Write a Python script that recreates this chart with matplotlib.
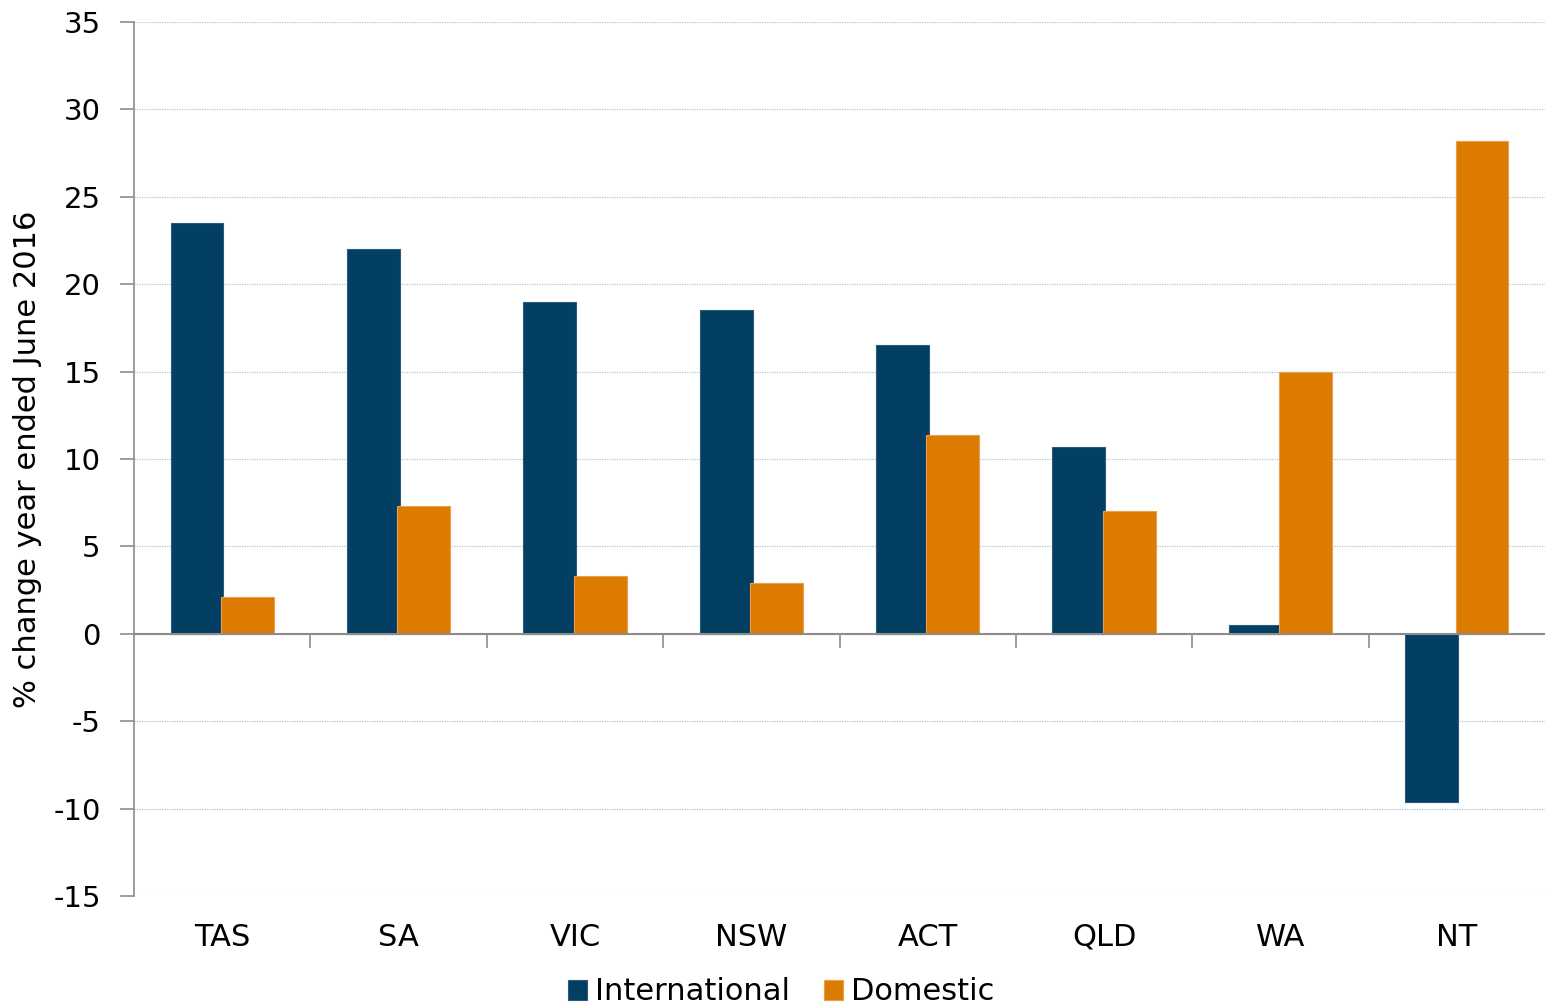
import matplotlib.pyplot as plt
import numpy as np

states = ['TAS', 'SA', 'VIC', 'NSW', 'ACT', 'QLD', 'WA', 'NT']
international = [23.5, 22.0, 19.0, 18.5, 16.5, 10.7, 0.5, -9.6]
domestic = [2.1, 7.3, 3.3, 2.9, 11.4, 7.0, 15.0, 28.2]
yticks = list(range(-15, 36, 5))

NAVY = '#023F62'
ORANGE = '#DD7A00'
GREY = '#8C8C8C'

plt.rcParams['font.family'] = ['DejaVu Sans']
plt.rcParams['axes.unicode_minus'] = False

fig = plt.figure(figsize=(15.45, 10.07), dpi=100)
ax = fig.add_axes([134 / 1545, 1 - 896 / 1007, 1 - 134 / 1545, (896 - 22) / 1007])

x = np.arange(len(states))
w = 0.3
off = 0.143
ax.bar(x - off, international, w, color=NAVY, edgecolor='#2b5a7a', linewidth=0.8,
       label='International', zorder=2)
ax.bar(x + off, domestic, w, color=ORANGE, edgecolor='#e8a050', linewidth=0.8,
       label='Domestic', zorder=2)

ax.set_xlim(-0.5, len(states) - 0.5)
ax.set_ylim(-15, 35)
ax.set_yticks(yticks)
ax.tick_params(axis='y', labelsize=21, length=10, width=1.2, color=GREY, pad=14)
ax.yaxis.grid(True, linestyle=(0, (1, 1)), color='#b4c4d2', linewidth=0.9, zorder=0)
ax.set_axisbelow(True)

# x axis sits at zero, separator ticks between categories
ax.spines['bottom'].set_position(('data', 0))
ax.spines['bottom'].set_color(GREY)
ax.spines['bottom'].set_linewidth(1.5)
ax.spines['bottom'].set_zorder(3)
ax.set_xticks(np.arange(0.5, len(states) - 0.5, 1))
ax.set_xticklabels([])
ax.tick_params(axis='x', length=10, width=1.2, color=GREY, direction='out')
for i, s in enumerate(states):
    ax.text(i, -0.047, s, transform=ax.get_xaxis_transform(), ha='center', va='center',
            fontsize=22)

ax.spines['left'].set_color(GREY)
ax.spines['left'].set_linewidth(1.2)
ax.spines['top'].set_visible(False)
ax.spines['right'].set_visible(False)

ax.set_ylabel('% change year ended June 2016', fontsize=22, labelpad=8)

fig.legend(loc='center', bbox_to_anchor=(781 / 1545, 1 - 992 / 1007), ncol=2, frameon=False,
           fontsize=22, handlelength=0.65, handleheight=0.65, handletextpad=0.25,
           columnspacing=1.1)

fig.savefig('out.png', dpi=100)
